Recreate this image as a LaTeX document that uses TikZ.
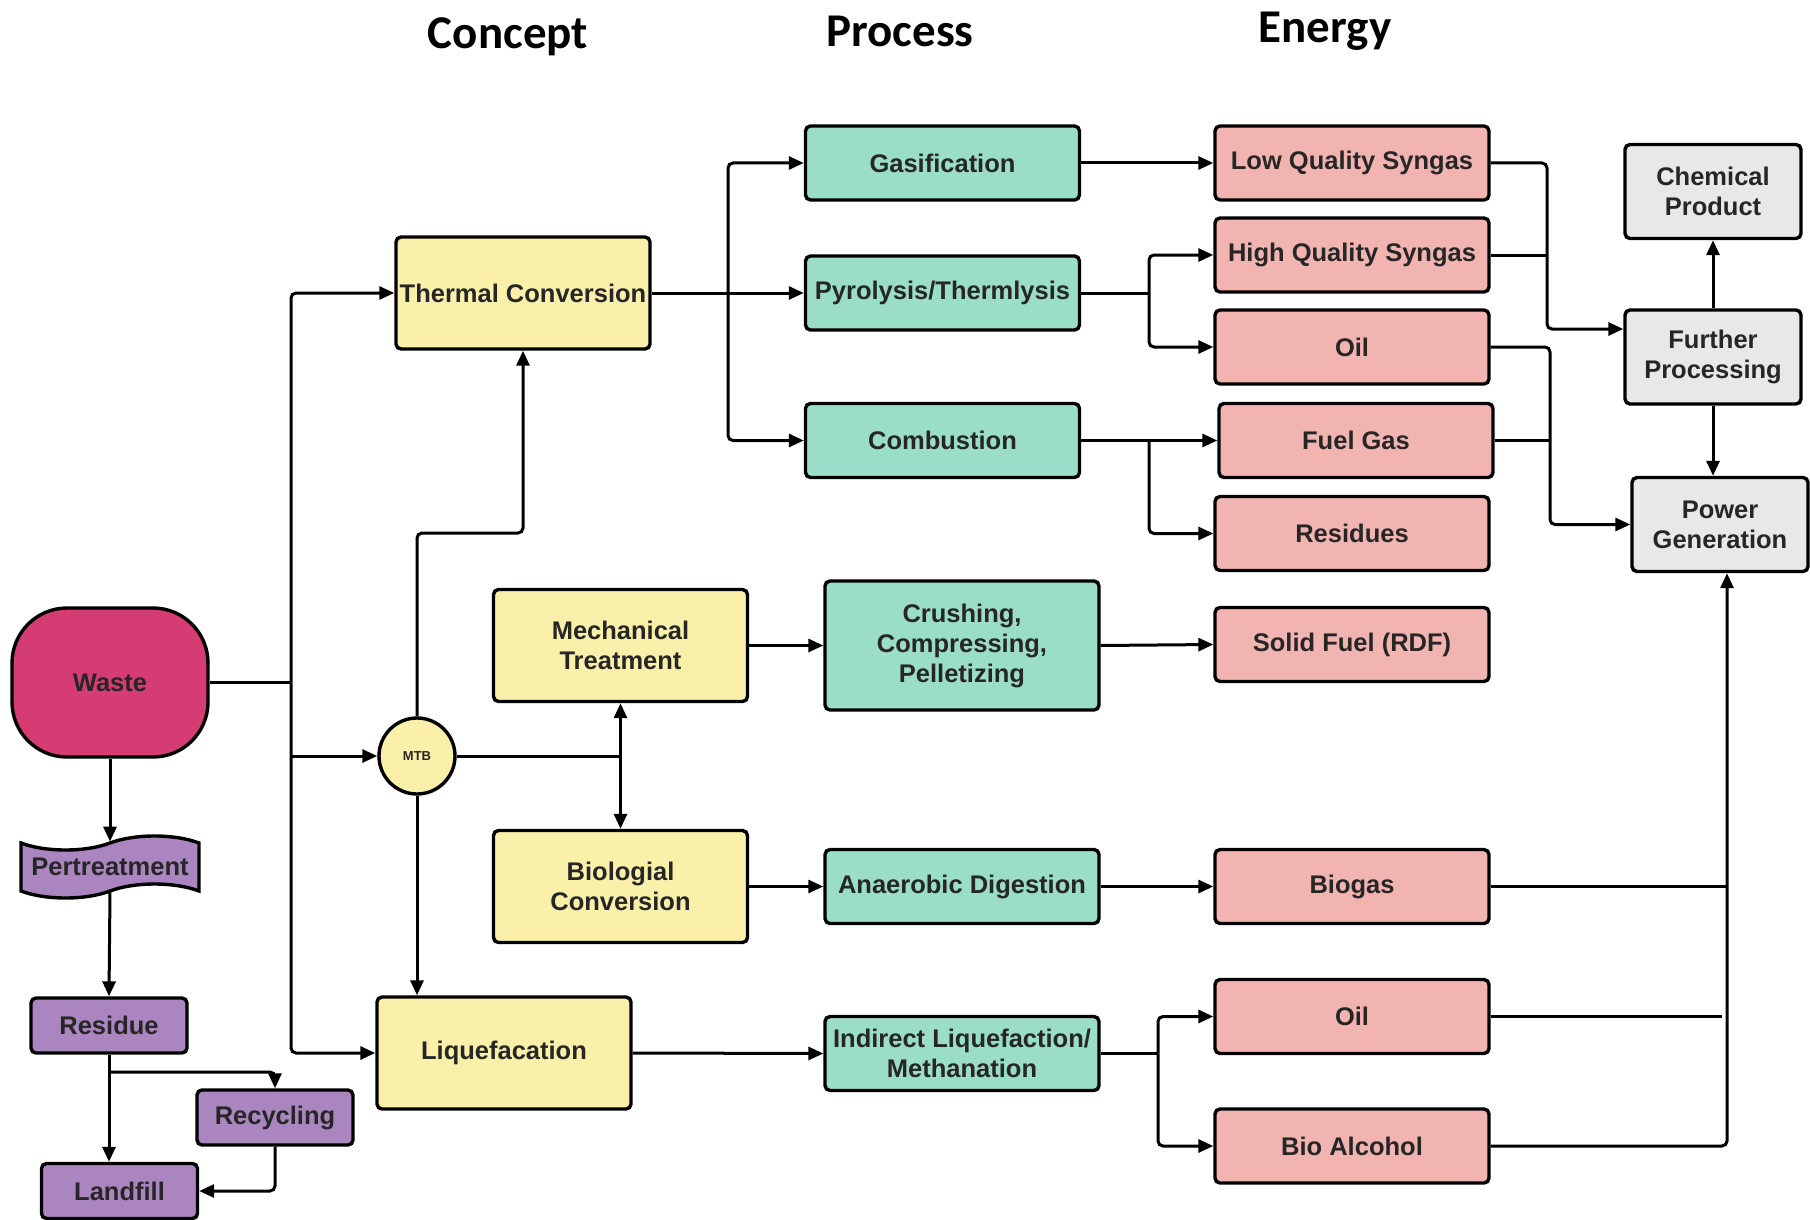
\documentclass[tikz,border=0pt]{standalone}
\usepackage{fontspec}
\setmainfont{Liberation Sans}
\newfontfamily\headfont{Carlito}
\usetikzlibrary{arrows.meta,shapes.symbols,calc}

\definecolor{cyel}{HTML}{FAF0AA}
\definecolor{cteal}{HTML}{9ADDC9}
\definecolor{cpink}{HTML}{F2B4B1}
\definecolor{cgrey}{HTML}{E8E8E8}
\definecolor{cwaste}{HTML}{D43C73}
\definecolor{cpurp}{HTML}{AA85BF}
\definecolor{ctxt}{HTML}{262626}

\begin{document}
\begin{tikzpicture}[x=1pt,y=-1pt,
 box/.style={draw=black, line width=3.4pt, rounded corners=5pt, align=center, inner sep=1pt, text=ctxt, font=\fontsize{25.5}{30}\selectfont\bfseries},
 concept/.style={box, fill=cyel, minimum width=254pt, minimum height=112pt},
 proc/.style={box, fill=cteal, minimum width=274pt, minimum height=74pt},
 energy/.style={box, fill=cpink, minimum width=274pt, minimum height=74pt},
 outbox/.style={box, fill=cgrey, minimum width=176pt, minimum height=94pt},
 purp/.style={box, fill=cpurp, minimum width=156pt, minimum height=55pt},
 conn/.style={line width=3pt, draw=black, rounded corners=5pt},
 arr/.style={conn, -{Triangle[length=15pt,width=13pt]}},
 head/.style={font=\headfont\fontsize{47}{56}\selectfont\bfseries, text=black, anchor=base}
]
\useasboundingbox[fill=white] (0,0) rectangle (1810,1220);

% headers
\node[head] (hconcept) at (508,48.5) {Concept};
\node[head] (hprocess) at (900,47) {Process};
\node[head] (henergy) at (1325,43) {Energy};

% concept column
\node[box, fill=cwaste, minimum width=196pt, minimum height=149pt, rounded corners=55pt] (waste) at (110,682.5) {Waste};
\node[concept] (thermal) at (523,293) {Thermal Conversion};
\node[circle, draw=black, line width=3.4pt, fill=cyel, minimum size=76pt, inner sep=0pt, font=\fontsize{13}{15}\selectfont\bfseries, text=ctxt] (mtb) at (417,756) {MTB};
\node[concept] (mech) at (620.5,645.5) {Mechanical\\Treatment};
\node[concept] (bio) at (620.5,886.5) {Biologial\\Conversion};
\node[concept] (liq) at (504,1053) {Liquefacation};

% process column
\node[proc] (gas) at (942.5,163) {Gasification};
\node[proc] (pyro) at (942.5,293) {Pyrolysis/Thermlysis};
\node[proc] (comb) at (942.5,440.5) {Combustion};
\node[proc, minimum height=129pt] (crush) at (962,645.5) {Crushing,\\Compressing,\\Pelletizing};
\node[proc] (anae) at (962,886.5) {Anaerobic Digestion};
\node[proc] (indir) at (962,1053.5) {Indirect Liquefaction/\\Methanation};

% energy column
\node[energy] (lq) at (1352,163) {Low Quality Syngas};
\node[energy] (hq) at (1352,255) {High Quality Syngas};
\node[energy] (oila) at (1352,347) {Oil};
\node[energy] (fuel) at (1356,440.5) {Fuel Gas};
\node[energy] (resid) at (1352,533.5) {Residues};
\node[energy] (solid) at (1352,644.5) {Solid Fuel (RDF)};
\node[energy] (biogas) at (1352,886.5) {Biogas};
\node[energy] (oilb) at (1352,1016.5) {Oil};
\node[energy] (bioalc) at (1352,1146) {Bio Alcohol};

% output column
\node[outbox] (chem) at (1713,191.5) {Chemical\\Product};
\node[outbox] (further) at (1713,357) {Further\\Processing};
\node[outbox] (power) at (1720,524.5) {Power\\Generation};

% left column
\node[box, tape, fill=cpurp, rounded corners=0pt, minimum width=178pt, minimum height=62pt, tape bend height=14pt] (pert) at (110,867) {Pertreatment};
\node[purp] (residue) at (109,1025.5) {Residue};
\node[purp] (recyc) at (275,1117.5) {Recycling};
\node[purp] (landfill) at (119.5,1191) {Landfill};

% waste bus
\coordinate (wj) at (291,682.5);
\draw[conn] (waste.east) -- (wj);
\draw[arr] (wj) |- (thermal.west);
\draw[arr] (wj) |- (liq.west);
\draw[arr] (wj |- mtb.west) -- (mtb.west);

% MTB connections
\coordinate (tk) at (417,533);
\draw[arr] (mtb.north) -- (tk) -| (thermal.south);
\draw[arr] (mtb.south) -- (mtb.south |- liq.north);
\coordinate (mj) at (mech.south |- mtb.east);
\draw[conn] (mtb.east) -- (mj);
\draw[arr] (mj) -- (mech.south);
\draw[arr] (mj) -- (bio.north);

% thermal to processes
\coordinate (tb) at (728,293);
\draw[arr] (thermal.east) -- (pyro.west);
\draw[arr] (tb) |- (gas.west);
\draw[arr] (tb) |- (comb.west);

% processes to energy
\draw[arr] (gas.east) -- (lq.west);
\coordinate (pb) at (1149,293);
\draw[conn] (pyro.east) -- (pb);
\draw[arr] (pb) |- (hq.west);
\draw[arr] (pb) |- (oila.west);
\coordinate (cb) at (1149,440.5);
\draw[conn] (comb.east) -- (cb);
\draw[arr] (cb) -- (fuel.west);
\draw[arr] (cb) |- (resid.west);
\draw[arr] (mech.east) -- (crush.west);
\draw[arr] (crush.east) -- (solid.west);
\draw[arr] (bio.east) -- (anae.west);
\draw[arr] (anae.east) -- (biogas.west);
\draw[arr] (liq.east) -- (indir.west);
\coordinate (ib) at (1158,1053.5);
\draw[conn] (indir.east) -- (ib);
\draw[arr] (ib) |- (oilb.west);
\draw[arr] (ib) |- (bioalc.west);

% energy to outputs
\coordinate (fb) at (1547,329);
\draw[arr] (lq.east) -| (fb) -- (fb -| further.west);
\draw[conn] (hq.east) -- (hq.east -| fb);
\coordinate (gb) at (1550,524.5);
\draw[arr] (oila.east) -| (gb) -- (power.west);
\draw[conn] (fuel.east) -- (fuel.east -| gb);
\draw[arr] (further.north) -- (chem.south);
\draw[arr] (further.south) -- (further.south |- power.north);
\coordinate (bb) at (1727,1146);
\draw[arr] (bioalc.east) -- (bb) -- (bb |- power.south);
\draw[conn] (biogas.east) -- (biogas.east -| bb);
\coordinate (oe) at (1722,1016.5);
\draw[conn] (oilb.east) -- (oe);

% left column connections
\draw[arr] (waste.south) -- (pert.north);
\draw[arr] (pert.south) -- (residue.north);
\draw[arr] (residue.south) -- (residue.south |- landfill.north);
\coordinate (rj) at (109,1072);
\draw[arr] (rj) -| (recyc.north);
\draw[arr] (recyc.south) |- (landfill.east);
\end{tikzpicture}
\end{document}
